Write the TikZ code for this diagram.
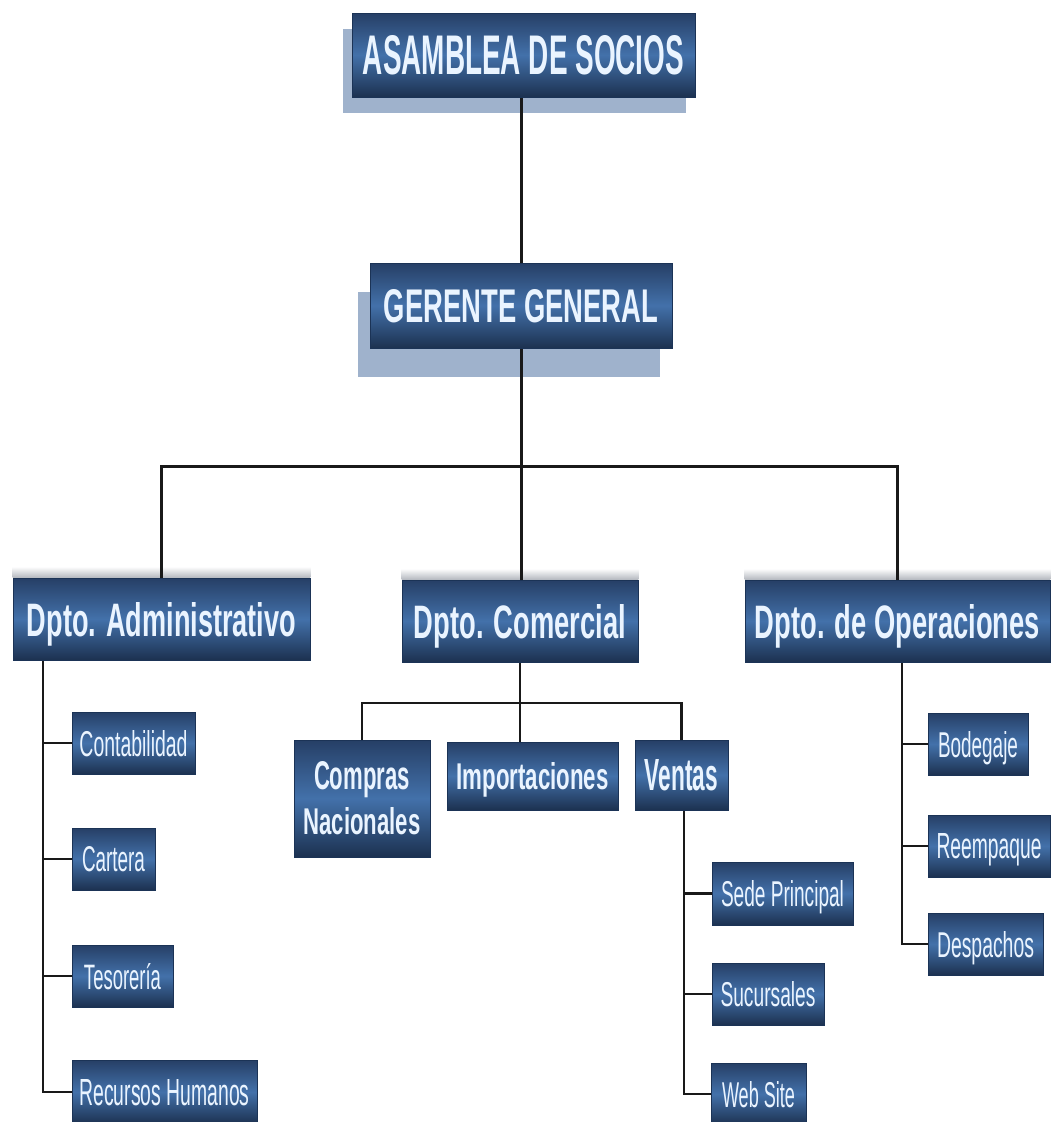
\documentclass[tikz,border=0pt]{standalone}
\usepackage{fontspec}
\setmainfont{Liberation Sans}
\usepackage{graphicx}
\pgfdeclarelayer{shad}
\pgfdeclarelayer{bg}
\pgfsetlayers{shad,bg,main}
\definecolor{boxtop}{HTML}{263F66}
\definecolor{boxmid}{HTML}{4371AA}
\definecolor{boxbot}{HTML}{1C3150}
\definecolor{boxedge}{HTML}{1B3356}
\definecolor{boxtext}{HTML}{EAF4FF}
\definecolor{shadc}{HTML}{9FB2CC}
\definecolor{bandc}{HTML}{B4B8BF}
\newcommand\fitxt[3]{\resizebox{#1pt}{#2pt}{#3}}
\begin{document}
\begin{tikzpicture}[x=1pt,y=-1pt,
  box/.style={rectangle, inner sep=0pt, draw=boxedge, line width=0.8pt,
    top color=boxtop, bottom color=boxbot, middle color=boxmid,
    text=boxtext, text depth=0pt},
  conn/.style={draw=black!90, line width=3pt},
  sconn/.style={draw=black!90, line width=2.8pt},
  shadowbox/.style={fill=shadc},
]
\path[use as bounding box] (0,0) rectangle (1054,1122);
\clip (0,0) rectangle (1054,1122);

% top levels
\node[box, minimum width=343pt, minimum height=84pt] (asm) at (523.5,55)
  {\fitxt{321}{39}{\bfseries ASAMBLEA DE SOCIOS}};
\node[box, minimum width=302pt, minimum height=85pt] (ger) at (521,305.5)
  {\fitxt{274}{33}{\bfseries GERENTE GENERAL}};

% departments
\node[box, minimum width=297pt, minimum height=82pt] (adm) at (161.5,619)
  {\fitxt{269}{34}{\bfseries Dpto. Administrativo}};
\node[box, minimum width=236pt, minimum height=82pt] (com) at (520,621)
  {\fitxt{212}{34}{\bfseries Dpto. Comercial}};
\node[box, minimum width=305pt, minimum height=82pt] (ope) at (897.5,621)
  {\fitxt{285}{34}{\bfseries Dpto. de Operaciones}};

% administrativo
\node[box, minimum width=123pt, minimum height=62pt] (conta) at (133.5,743)
  {\fitxt{108}{26}{Contabilidad}};
\node[box, minimum width=83pt, minimum height=62pt] (cart) at (113.5,859)
  {\fitxt{63}{25}{Cartera}};
\node[box, minimum width=101pt, minimum height=62pt] (teso) at (122.5,976)
  {\fitxt{77}{26}{Tesorería}};
\node[box, minimum width=185pt, minimum height=64pt] (rrhh) at (164.5,1092)
  {\fitxt{170}{26}{Recursos Humanos}};

% comercial
\node[box, minimum width=136pt, minimum height=117pt, align=center, text depth={}] (compras) at (362,798.5)
  {\fitxt{96}{28}{\bfseries Compras}\\[9pt]\fitxt{117}{27}{\bfseries Nacionales}};
\node[box, minimum width=171pt, minimum height=68pt] (impo) at (532.5,776)
  {\fitxt{152}{27}{\bfseries Importaciones}};
\node[box, minimum width=93pt, minimum height=70pt] (ventas) at (681.5,775)
  {\fitxt{73}{31}{\bfseries Ventas}};

\node[box, minimum width=141pt, minimum height=63pt] (sede) at (782.5,893.5)
  {\fitxt{123}{26}{Sede Principal}};
\node[box, minimum width=112pt, minimum height=62pt] (sucu) at (768,994)
  {\fitxt{95}{25}{Sucursales}};
\node[box, minimum width=95pt, minimum height=62pt] (web) at (758.5,1094)
  {\fitxt{73}{26}{Web Site}};

% operaciones
\node[box, minimum width=100pt, minimum height=62pt] (bode) at (978,744)
  {\fitxt{80}{26}{Bodegaje}};
\node[box, minimum width=122pt, minimum height=62pt] (reem) at (989,846)
  {\fitxt{105}{25}{Reempaque}};
\node[box, minimum width=115pt, minimum height=62pt] (desp) at (985.5,944)
  {\fitxt{97}{26}{Despachos}};

% shadows
\begin{pgfonlayer}{shad}
  \fill[white] (0,0) rectangle (1054,1122);
  \fill[shadowbox] ([xshift=-9pt,yshift=-16pt]asm.south west) rectangle ([xshift=-9pt,yshift=-16pt]asm.north east);
  \fill[shadowbox] ([xshift=-12pt,yshift=-29pt]ger.south west) rectangle ([xshift=-12pt,yshift=-29pt]ger.north east);
  \foreach \n in {adm,com,ope}{
    \shade[top color=white, bottom color=bandc] ([yshift=11pt]\n.north west) rectangle (\n.north east);
  }
\end{pgfonlayer}

% connectors
\coordinate (bus) at (521,466);
\coordinate (admt) at (43,660);
\coordinate (cbus) at (519,703);
\coordinate (vt) at (684,810);
\coordinate (ot) at (902,662);
\begin{pgfonlayer}{bg}
  \draw[conn] (asm.south -| ger.north) -- (ger.north);
  \draw[conn] (ger.south) -- (ger.south |- com.north);
  \draw[conn] (adm.north) |- (bus) -| (ope.north);
  \draw[sconn] (admt) |- (rrhh.west);
  \foreach \n in {conta,cart,teso}{\draw[sconn] (admt |- \n.west) -- (\n.west);}
  \draw[sconn] (com.south) -- (com.south |- impo.north);
  \draw[sconn] (compras.north) |- (cbus) -| (ventas.north);
  \draw[sconn] (vt) |- (web.west);
  \foreach \n in {sede,sucu}{\draw[sconn] (vt |- \n.west) -- (\n.west);}
  \draw[sconn] (ot) |- (desp.west);
  \foreach \n in {bode,reem}{\draw[sconn] (ot |- \n.west) -- (\n.west);}
\end{pgfonlayer}
\end{tikzpicture}
\end{document}
